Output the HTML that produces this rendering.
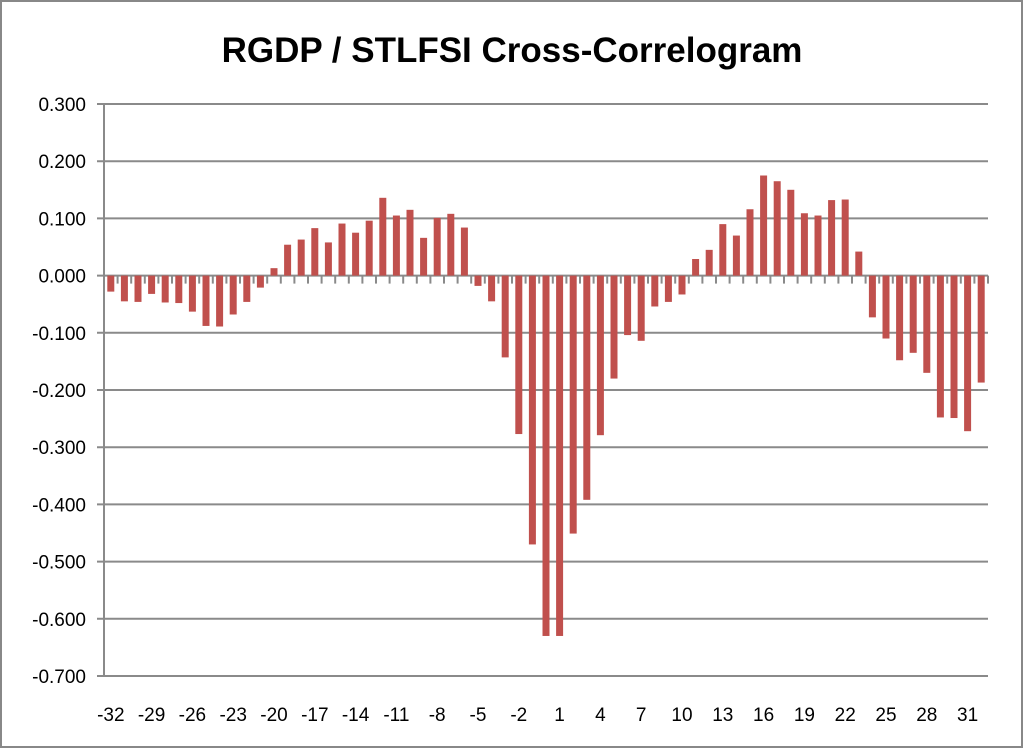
<!DOCTYPE html>
<html><head><meta charset="utf-8"><style>
body{margin:0;background:#fff;}
svg{display:block;font-family:"Liberation Sans",Arial,sans-serif;}
</style></head><body>
<svg id="chart" width="1024" height="749" viewBox="0 0 1024 749">
<rect x="1" y="1" width="1021" height="746" fill="#fff" stroke="#888" stroke-width="2"/>
<text x="512" y="62" text-anchor="middle" font-size="35" font-weight="bold" fill="#000">RGDP / STLFSI Cross-Correlogram</text>
<g id="grid"></g><g id="bars"></g><g id="axes"></g>
</svg>
<script>
const lags = [];
for (let k = -32; k <= 32; k++) lags.push(k);
const correlations = [-0.028,-0.045,-0.046,-0.032,-0.047,-0.048,-0.063,-0.088,-0.089,-0.068,-0.046,-0.021,0.013,0.054,0.063,0.083,0.058,0.091,0.075,0.096,0.136,0.105,0.115,0.066,0.101,0.108,0.084,-0.018,-0.045,-0.143,-0.277,-0.470,-0.630,-0.630,-0.451,-0.392,-0.279,-0.180,-0.104,-0.114,-0.054,-0.046,-0.033,0.029,0.045,0.090,0.070,0.116,0.175,0.165,0.150,0.109,0.105,0.132,0.133,0.042,-0.073,-0.110,-0.148,-0.135,-0.170,-0.248,-0.249,-0.272,-0.187];
const yTicks = [0.3,0.2,0.1,0,-0.1,-0.2,-0.3,-0.4,-0.5,-0.6,-0.7];
const xLabelLags = [-32,-29,-26,-23,-20,-17,-14,-11,-8,-5,-2,1,4,7,10,13,16,19,22,25,28,31];

const NS='http://www.w3.org/2000/svg';
const L=104,R=988,T=104,B=676,yMax=0.3,yMin=-0.7;
const n=lags.length, step=(R-L)/n;
const y=v=>T+(yMax-v)/(yMax-yMin)*(B-T);
const xc=i=>L+step*(i+0.5);
function mk(tag,attrs,parent){const e=document.createElementNS(NS,tag);for(const k in attrs)e.setAttribute(k,attrs[k]);parent.appendChild(e);return e;}
const grid=document.getElementById('grid'),bars=document.getElementById('bars'),axes=document.getElementById('axes');
yTicks.forEach(v=>{
  const yy=y(v);
  const g=mk('line',{x1:L-7,x2:R,y1:yy,y2:yy,stroke:'#8a8a8a','stroke-width':2},grid);
  
  
  const t=mk('text',{x:86,y:yy+7,'text-anchor':'end','font-size':19,fill:'#000'},axes);
  t.textContent=v.toFixed(3);
  
  
});
const ya=mk('line',{x1:L,x2:L,y1:T,y2:B,stroke:'#8a8a8a','stroke-width':2},axes);


for(let i=0;i<=n;i++){
  const xx=L+step*i;
  const tk=mk('line',{x1:xx,x2:xx,y1:y(0),y2:y(0)+8,stroke:'#8a8a8a','stroke-width':2},axes);
  
  
}
correlations.forEach((v,i)=>{
  const y0=y(0),y1=y(v);
  const r=mk('rect',{x:xc(i)-3.5,y:Math.min(y0,y1),width:7,height:Math.max(1,Math.abs(y1-y0)),fill:'#c0504d'},bars);
  
  
});
xLabelLags.forEach(k=>{
  const i=lags.indexOf(k);
  const t=mk('text',{x:xc(i),y:721,'text-anchor':'middle','font-size':19,fill:'#000'},axes);
  t.textContent=k;
  
  
});
</script>
</body></html>
